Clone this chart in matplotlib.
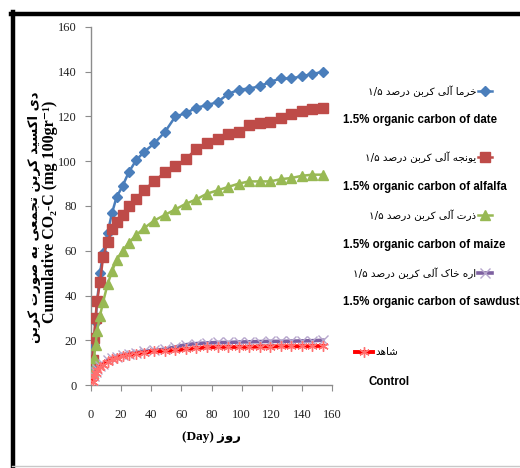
import matplotlib
matplotlib.use("Agg")
import matplotlib.pyplot as plt
from matplotlib.lines import Line2D

# sampling days and cumulative CO2-C (mg 100 g-1) per treatment
days = [1, 2, 3, 4, 6, 8, 11, 14, 17, 21, 25, 30, 35, 42, 49, 56, 63, 70,
        77, 84, 91, 98, 105, 112, 119, 126, 133, 140, 147, 154]
date = [8, 18, 28, 37, 50, 59, 68, 77, 84, 89, 95, 100.5, 104, 108, 113, 120,
        121.5, 124, 125, 126.5, 130, 132, 132.5, 133.5, 135.5, 137, 137, 138, 139, 140]
alfalfa = [11, 21, 30, 37.5, 46, 57, 64, 69.5, 73, 76, 80, 83.3, 87, 91, 95, 98,
           101, 105.5, 108, 110, 112, 113, 116, 117, 117.5, 119.5, 121, 122.5, 123.5, 124]
maize = [6, 12, 18, 24, 31, 37, 45, 51, 56, 60, 63.5, 67, 70, 73.5, 76, 78.5,
         81, 83, 85.5, 87, 88.5, 90, 91, 91, 91, 92, 92.5, 93.5, 94, 94]
sawdust = [2, 4, 6, 7, 8.5, 9.5, 11, 12, 12.5, 13.5, 14, 14.5, 15, 15.5, 16, 17,
           18, 18.5, 18.8, 19, 19, 19.2, 19.3, 19.4, 19.5, 19.5, 19.6, 19.7, 19.8, 20]
control = [1.5, 4, 5.5, 6.5, 8, 9, 10.5, 11.5, 12, 13, 13.5, 14, 14.5, 15, 15.2, 15.5,
           16, 16.5, 16.8, 17, 17, 17, 17, 17.2, 17.2, 17.3, 17.3, 17.4, 17.4, 17.5]

fa_names = ["خرما", "یونجه", "ذرت", "خاک اره", "شاهد"]
en_names = ["1.5% organic carbon of date", "1.5% organic carbon of alfalfa",
            "1.5% organic carbon of maize", "1.5% organic carbon of sawdust", "Control"]

# contextual forms: isolated, final, initial, medial (None = joins right only)
FORMS = {
    "ا": ("\uFE8D", "\uFE8E", None, None),
    "آ": ("\uFE81", "\uFE82", None, None),
    "ب": ("\uFE8F", "\uFE90", "\uFE91", "\uFE92"),
    "ت": ("\uFE95", "\uFE96", "\uFE97", "\uFE98"),
    "ج": ("\uFE9D", "\uFE9E", "\uFE9F", "\uFEA0"),
    "خ": ("\uFEA5", "\uFEA6", "\uFEA7", "\uFEA8"),
    "د": ("\uFEA9", "\uFEAA", None, None),
    "ذ": ("\uFEAB", "\uFEAC", None, None),
    "ر": ("\uFEAD", "\uFEAE", None, None),
    "ز": ("\uFEAF", "\uFEB0", None, None),
    "س": ("\uFEB1", "\uFEB2", "\uFEB3", "\uFEB4"),
    "ش": ("\uFEB5", "\uFEB6", "\uFEB7", "\uFEB8"),
    "ص": ("\uFEB9", "\uFEBA", "\uFEBB", "\uFEBC"),
    "ع": ("\uFEC9", "\uFECA", "\uFECB", "\uFECC"),
    "ل": ("\uFEDD", "\uFEDE", "\uFEDF", "\uFEE0"),
    "م": ("\uFEE1", "\uFEE2", "\uFEE3", "\uFEE4"),
    "ن": ("\uFEE5", "\uFEE6", "\uFEE7", "\uFEE8"),
    "ه": ("\uFEE9", "\uFEEA", "\uFEEB", "\uFEEC"),
    "و": ("\uFEED", "\uFEEE", None, None),
    "ک": ("\uFB8E", "\uFB8F", "\uFB90", "\uFB91"),
    "ی": ("\uFEEF", "\uFEF0", "\uFEF3", "\uFEF4"),
}


def shape(text):
    """Join Persian letters and return them in drawing (left-to-right) order."""
    out = []
    for i, ch in enumerate(text):
        f = FORMS.get(ch)
        if f is None:
            out.append(ch)
            continue
        prev = text[i - 1] if i > 0 else ""
        nxt = text[i + 1] if i + 1 < len(text) else ""
        jp = prev in FORMS and FORMS[prev][2] is not None
        jn = nxt in FORMS and f[2] is not None
        if jp and jn:
            out.append(f[3])
        elif jp:
            out.append(f[1])
        elif jn:
            out.append(f[2])
        else:
            out.append(f[0])
    return "".join(reversed(out))


def fa_entry(name):
    words = ["درصد", "کربن", "آلی"] + name.split()
    return " ".join(["۱/۵"] + [shape(w) for w in words])


W, H = 520, 468
fig = plt.figure(figsize=(W / 100, H / 100), dpi=100)
ax = fig.add_axes([91 / W, 1 - 385 / H, 241 / W, 358 / H])

styles = [
    dict(color="#4a7ebb", marker="D", ms=5.5, lw=1.8),
    dict(color="#be4b48", marker="s", ms=6.5, lw=1.8),
    dict(color="#98b954", marker="^", ms=7, lw=1.8),
    dict(color="#7d60a0", marker="x", ms=6.5, lw=2.6, mec="#b6a6cc", mew=1.0),
    dict(color="#ff0000", marker=(6, 2, 0), ms=7.5, lw=2.8, mec="#ff7070", mew=1.0),
]
series = [date, alfalfa, maize, sawdust, control]
for vals, st in zip(series, styles):
    ax.plot(days, vals, zorder=3, **st)

ax.set_xlim(0, 160)
ax.set_ylim(0, 160)
ax.set_xticks(range(0, 161, 20))
ax.set_yticks(range(0, 161, 20))
for s in ["top", "right"]:
    ax.spines[s].set_visible(False)
for s in ["left", "bottom"]:
    ax.spines[s].set_color("#8c8c8c")
    ax.spines[s].set_linewidth(1.0)
ax.tick_params(direction="out", length=4, color="#8c8c8c", labelsize=9, pad=6)
ax.tick_params(axis="x", pad=13)
for lab in ax.get_xticklabels() + ax.get_yticklabels():
    lab.set_fontfamily(["Liberation Serif", "DejaVu Serif"])
    lab.set_color("#222222")

# overlay in pixel coordinates for labels, legend and frame
ov = fig.add_axes([0, 0, 1, 1], zorder=5)
ov.set_xlim(0, W)
ov.set_ylim(H, 0)
ov.axis("off")
ov.patch.set_alpha(0)

ov.add_line(Line2D([11, W], [14, 14], color="black", lw=3.2))
ov.add_line(Line2D([12.5, 12.5], [12, H], color="black", lw=3.2))
ov.add_line(Line2D([12, W], [466, 466], color="#c8c8c8", lw=1.0))

ov.text(212, 437, "(Day) " + shape("روز"), ha="center", va="center", fontsize=9.5,
        fontweight="bold", family=["Liberation Serif", "DejaVu Sans"])

ov.text(35, 217, shape("دی اکسید کربن تجمعی به صورت کربن"), rotation=90,
        ha="center", va="center", fontsize=9.5, fontweight="bold",
        family=["DejaVu Sans"])
ov.text(50, 212, "Cumulative CO\u2082-C (mg 100gr\u207b\u00b9)", rotation=90,
        ha="center", va="center", fontsize=11.5, fontweight="bold",
        family=["Liberation Serif", "DejaVu Serif"])

fa_y = [91, 157, 215, 273]
en_y = [120, 187, 245, 302]
for i in range(4):
    st = styles[i]
    ov.add_line(Line2D([478, 485, 492], [fa_y[i]] * 3, color=st["color"], lw=st["lw"],
                       marker=st["marker"], ms=st["ms"], markevery=[1],
                       mec=st.get("mec", st["color"]), mew=st.get("mew", 1.0)))
    ov.text(476, fa_y[i], fa_entry(fa_names[i]), ha="right", va="center",
            fontsize=7.5, family=["DejaVu Sans"])
    ov.text(343, en_y[i], en_names[i], ha="left", va="center", fontsize=8.3,
            fontweight="bold", family=["Liberation Sans Narrow", "Liberation Sans"])

st = styles[4]
ov.add_line(Line2D([355, 364, 373], [352] * 3, color=st["color"], lw=st["lw"],
                   marker=st["marker"], ms=st["ms"], markevery=[1],
                   mec=st["mec"], mew=st["mew"]))
ov.text(375, 352, shape(fa_names[4]), ha="left", va="center", fontsize=7.5,
        family=["DejaVu Sans"])
ov.text(389, 382, en_names[4], ha="center", va="center", fontsize=8.3,
        fontweight="bold", family=["Liberation Sans Narrow", "Liberation Sans"])

fig.savefig("out.png", dpi=100)
